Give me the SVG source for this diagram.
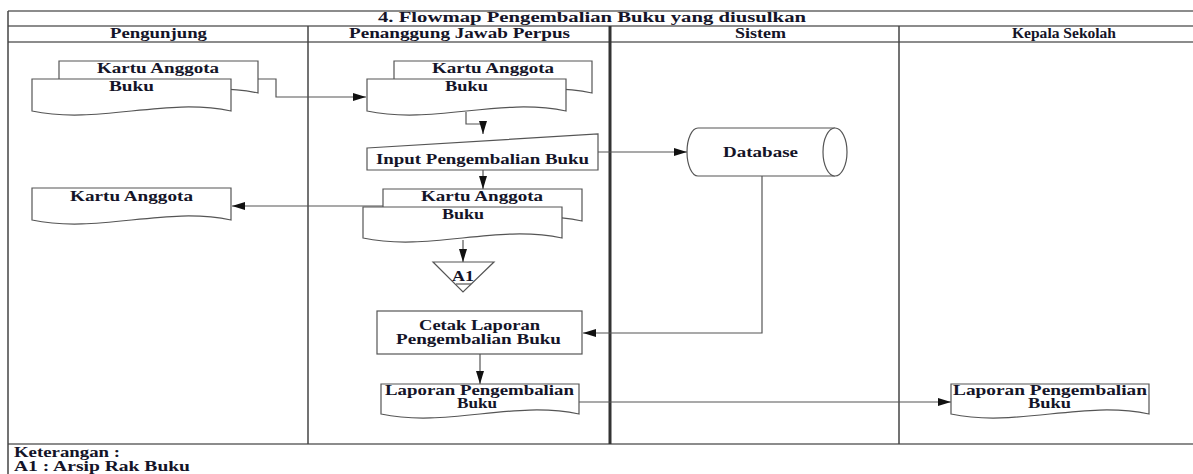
<svg xmlns="http://www.w3.org/2000/svg" width="1193" height="474" viewBox="0 0 1193 474">
<defs>
<style>
.frame{stroke:#8c8c8c;stroke-width:2;fill:none}
.lane{stroke:#444;stroke-width:1.5;fill:none}
.lane2{stroke:#333;stroke-width:3;fill:none}
.shape{fill:#fff;stroke:#555;stroke-width:1.2}
.conn{fill:none;stroke:#555;stroke-width:1.2}
text{font-family:"Liberation Serif","DejaVu Serif","Times New Roman",serif;font-size:14px;fill:#141428;font-weight:bold}
</style>
<marker id="arr" markerUnits="userSpaceOnUse" markerWidth="14" markerHeight="10" refX="13" refY="5" orient="auto">
<path d="M0,1 L13,5 L0,9 Z" fill="#111"/>
</marker>
</defs>
<rect width="1193" height="474" fill="#fff"/>
<g id="frame">
<line class="frame" x1="8" y1="11" x2="1193" y2="11"/>
<line class="frame" x1="8" y1="26" x2="1193" y2="26"/>
<line class="frame" x1="8" y1="42" x2="1193" y2="42"/>
<line class="frame" x1="8" y1="444" x2="1193" y2="444"/>
<line class="lane" x1="8" y1="11" x2="8" y2="474"/>
<line class="lane" x1="308" y1="26" x2="308" y2="444"/>
<line class="lane2" x1="610" y1="26" x2="610" y2="444"/>
<line class="lane" x1="899" y1="26" x2="899" y2="444"/>
<text x="378" y="22" textLength="428" lengthAdjust="spacingAndGlyphs">4. Flowmap Pengembalian Buku yang diusulkan</text>
<text x="110" y="38" textLength="97" lengthAdjust="spacingAndGlyphs">Pengunjung</text>
<text x="349" y="38" textLength="221" lengthAdjust="spacingAndGlyphs">Penanggung Jawab Perpus</text>
<text x="735" y="38" textLength="51" lengthAdjust="spacingAndGlyphs">Sistem</text>
<text x="1012" y="38" style="font-size:15px" textLength="104" lengthAdjust="spacingAndGlyphs">Kepala Sekolah</text>
<text x="14" y="457" textLength="106" lengthAdjust="spacingAndGlyphs">Keterangan :</text>
<text x="14" y="471" textLength="176" lengthAdjust="spacingAndGlyphs">A1 : Arsip Rak Buku</text>
</g>
<g id="connectors">
<polyline class="conn" points="258,79 276,79 276,97 366,97" marker-end="url(#arr)"/>
<polyline class="conn" points="466,112 466,124 483,124 483,134" marker-end="url(#arr)"/>
<line class="conn" x1="598" y1="152" x2="687" y2="152" marker-end="url(#arr)"/>
<line class="conn" x1="483" y1="170" x2="483" y2="189" marker-end="url(#arr)"/>
<line class="conn" x1="383" y1="206" x2="232" y2="206" marker-end="url(#arr)"/>
<line class="conn" x1="463" y1="240" x2="463" y2="262" marker-end="url(#arr)"/>
<polyline class="conn" points="762,176 762,333 583,333" marker-end="url(#arr)"/>
<line class="conn" x1="480" y1="354" x2="480" y2="384" marker-end="url(#arr)"/>
<line class="conn" x1="579" y1="402" x2="951" y2="402" marker-end="url(#arr)"/>
</g>
<g id="doc-pengunjung-1">
<path class="shape" d="M59,61 H258 V93 C191.7,79 125.3,107 59,93 Z"/>
<path class="shape" d="M32,79 H231 V111 C164.7,97 98.3,125 32,111 Z"/>
<text x="97" y="73" textLength="122" lengthAdjust="spacingAndGlyphs">Kartu Anggota</text>
<text x="109" y="91" textLength="45" lengthAdjust="spacingAndGlyphs">Buku</text>
</g>
<g id="doc-pj-1">
<path class="shape" d="M394,61 H592 V93 C526,79 460,107 394,93 Z"/>
<path class="shape" d="M367,79 H566 V111 C499.7,97 433.3,125 367,111 Z"/>
<text x="432" y="73" textLength="122" lengthAdjust="spacingAndGlyphs">Kartu Anggota</text>
<text x="445" y="91" textLength="43" lengthAdjust="spacingAndGlyphs">Buku</text>
</g>
<g id="input-pengembalian">
<path class="shape" d="M367,148 L598,134 L598,170 L367,170 Z"/>
<text x="376" y="164" textLength="213" lengthAdjust="spacingAndGlyphs">Input Pengembalian Buku</text>
</g>
<g id="database">
<path class="shape" d="M835,128 H698 A11,24 0 0 0 698,176 H835"/>
<ellipse class="shape" cx="835" cy="152" rx="12" ry="24"/>
<text x="723" y="157" textLength="75" lengthAdjust="spacingAndGlyphs">Database</text>
</g>
<g id="doc-pj-2">
<path class="shape" d="M383,189 H582 V221 C515.7,207 449.3,235 383,221 Z"/>
<path class="shape" d="M363,207 H562 V238 C495.7,224 429.3,252 363,238 Z"/>
<text x="421" y="201" textLength="122" lengthAdjust="spacingAndGlyphs">Kartu Anggota</text>
<text x="442" y="219" textLength="42" lengthAdjust="spacingAndGlyphs">Buku</text>
</g>
<g id="doc-pengunjung-2">
<path class="shape" d="M32,188 H231 V220 C164.7,206 98.3,234 32,220 Z"/>
<text x="70" y="201" textLength="123" lengthAdjust="spacingAndGlyphs">Kartu Anggota</text>
</g>
<g id="arsip-a1">
<path class="shape" d="M433,262 L494,262 L463,292 Z"/>
<line class="conn" x1="456" y1="284" x2="471" y2="284"/>
<text x="452" y="281" textLength="22" lengthAdjust="spacingAndGlyphs">A1</text>
</g>
<g id="cetak-laporan">
<rect class="shape" x="377" y="311" width="205" height="43"/>
<text x="419" y="330" textLength="121" lengthAdjust="spacingAndGlyphs">Cetak Laporan</text>
<text x="396" y="344" textLength="165" lengthAdjust="spacingAndGlyphs">Pengembalian Buku</text>
</g>
<g id="laporan-pj">
<path class="shape" d="M381,384 H579 V414 C513,400 447,428 381,414 Z"/>
<text x="385" y="395" textLength="189" lengthAdjust="spacingAndGlyphs">Laporan Pengembalian</text>
<text x="457" y="408" textLength="40" lengthAdjust="spacingAndGlyphs">Buku</text>
</g>
<g id="laporan-kepsek">
<path class="shape" d="M951,384 H1149 V414 C1083,400 1017,428 951,414 Z"/>
<text x="953" y="395" textLength="194" lengthAdjust="spacingAndGlyphs">Laporan Pengembalian</text>
<text x="1028" y="408" textLength="43" lengthAdjust="spacingAndGlyphs">Buku</text>
</g>
</svg>
